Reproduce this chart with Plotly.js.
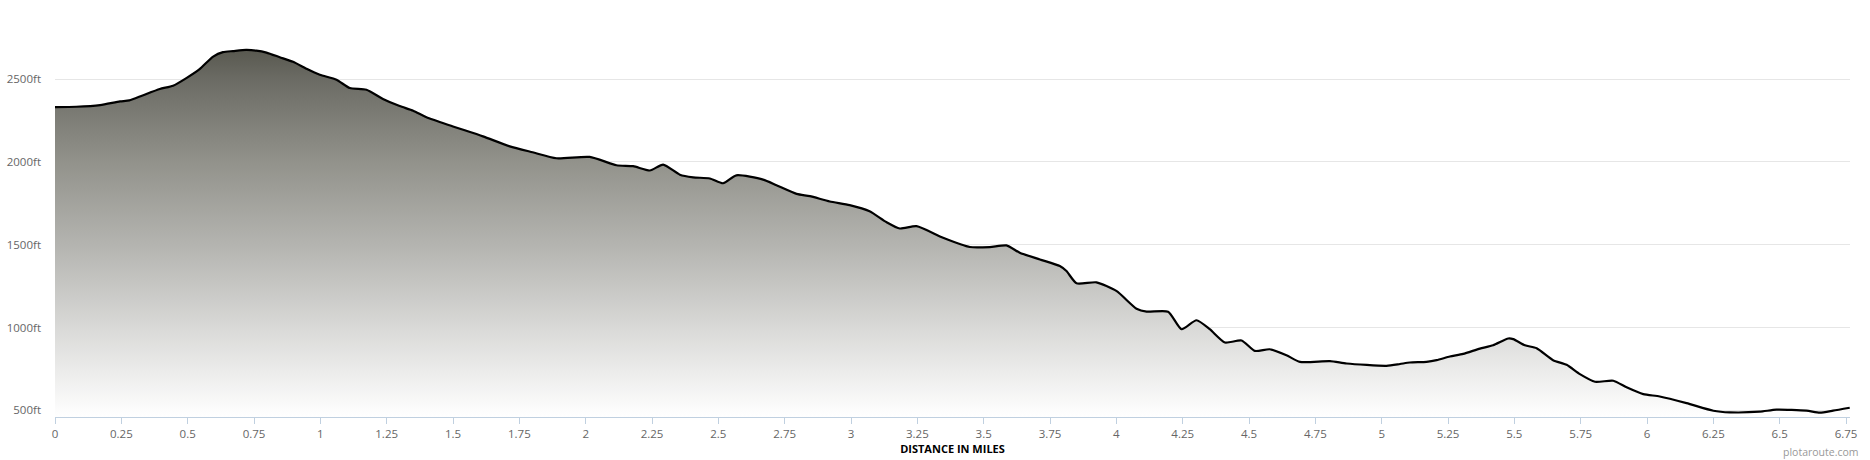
<!DOCTYPE html>
<html>
<head>
<meta charset="utf-8">
<script src="https://cdn.plot.ly/plotly-3.0.1.min.js"></script>
<style>
  html, body { margin: 0; padding: 0; background: #ffffff; }
  #chart { width: 1870px; height: 460px; }
</style>
</head>
<body>
<div id="chart"></div>
<script>
// Distance along route (miles)
const distanceMiles = [
  0, 0.08, 0.17, 0.245, 0.28, 0.33, 0.395, 0.445, 0.495, 0.545, 0.596, 0.633, 0.671, 0.72, 0.759,
  0.797, 0.847, 0.897, 0.948, 0.998, 1.061, 1.111, 1.174, 1.236, 1.299, 1.35, 1.40, 1.50, 1.613,
  1.714, 1.80, 1.89, 2.015, 2.116, 2.179, 2.242, 2.292, 2.355, 2.405, 2.468, 2.518, 2.568, 2.669,
  2.719, 2.795, 2.845, 2.92, 2.995, 3.07, 3.134, 3.184, 3.247, 3.347, 3.448, 3.523, 3.586, 3.636,
  3.712, 3.787, 3.812, 3.85, 3.925, 4.0, 4.076, 4.114, 4.195, 4.246, 4.302, 4.352, 4.409, 4.472,
  4.522, 4.578, 4.641, 4.692, 4.805, 4.868, 5.018, 5.069, 5.106, 5.169, 5.207, 5.257, 5.307, 5.37,
  5.42, 5.477, 5.496, 5.54, 5.584, 5.646, 5.697, 5.747, 5.804, 5.873, 5.923, 5.986, 6.048, 6.149,
  6.25, 6.312, 6.425, 6.488, 6.601, 6.651, 6.701, 6.764
];
// Elevation (feet)
const elevationFt = [
  2331, 2333, 2343, 2365, 2371, 2401, 2440, 2460, 2506, 2560, 2636, 2663, 2669, 2676, 2672,
  2660, 2632, 2604, 2562, 2526, 2496, 2446, 2436, 2380, 2337, 2309, 2269, 2214, 2154,
  2094, 2058, 2022, 2030, 1980, 1974, 1948, 1984, 1923, 1907, 1900, 1871, 1919, 1893,
  1859, 1807, 1793, 1761, 1739, 1702, 1636, 1598, 1612, 1542, 1486, 1486, 1496, 1452,
  1411, 1371, 1341, 1267, 1273, 1221, 1114, 1096, 1096, 990, 1044, 990, 910, 922,
  859, 869, 833, 793, 797, 783, 769, 780, 789, 793, 803, 825, 841, 873,
  893, 934, 930, 893, 875, 803, 775, 719, 673, 679, 639, 598, 584, 544,
  498, 488, 492, 504, 498, 486, 498, 516
];
// Tick labels
const xTickVals = [0, 0.25, 0.5, 0.75, 1, 1.25, 1.5, 1.75, 2, 2.25, 2.5, 2.75, 3, 3.25, 3.5, 3.75,
  4, 4.25, 4.5, 4.75, 5, 5.25, 5.5, 5.75, 6, 6.25, 6.5, 6.75];
const xTickText = ["0", "0.25", "0.5", "0.75", "1", "1.25", "1.5", "1.75", "2", "2.25", "2.5", "2.75",
  "3", "3.25", "3.5", "3.75", "4", "4.25", "4.5", "4.75", "5", "5.25", "5.5", "5.75", "6", "6.25", "6.5", "6.75"];
const yTickVals = [500, 1000, 1500, 2000, 2500];
const yTickText = ["500ft", "1000ft", "1500ft", "2000ft", "2500ft"];

const trace = {
  x: distanceMiles,
  y: elevationFt,
  type: 'scatter',
  mode: 'lines',
  line: { color: '#000000', width: 2.2, shape: 'spline', smoothing: 0.6 },
  fill: 'tozeroy',
  fillgradient: {
    type: 'vertical',
    start: 460,
    stop: 2680,
    colorscale: [
      [0, '#ffffff'],
      [0.243, '#d9d9d7'],
      [0.468, '#b4b4b0'],
      [0.694, '#92928b'],
      [0.919, '#6b6b64'],
      [1, '#58584f']
    ]
  },
  hoverinfo: 'x+y'
};

const layout = {
  width: 1870,
  height: 460,
  margin: { l: 55, r: 20, t: 10, b: 43 },
  paper_bgcolor: '#ffffff',
  plot_bgcolor: '#ffffff',
  showlegend: false,
  font: { family: 'Open Sans, sans-serif', size: 11, color: '#666666' },
  xaxis: {
    range: [0, 6.765],
    tickvals: xTickVals,
    ticktext: xTickText,
    showgrid: false,
    zeroline: false,
    showline: true,
    linecolor: '#C0D0E0',
    linewidth: 1,
    ticks: 'outside',
    ticklen: 6,
    tickcolor: '#C0D0E0',
    tickwidth: 1,
    tickfont: { family: 'Open Sans, sans-serif', size: 11.5, color: '#666666' },
    title: {
      text: 'DISTANCE IN MILES',
      font: { family: 'Open Sans, sans-serif', size: 11, color: '#000000', weight: 'bold' },
      standoff: 1
    },
    automargin: false
  },
  yaxis: {
    range: [460, 2917],
    tickvals: yTickVals,
    ticktext: yTickText,
    showgrid: true,
    gridcolor: '#e6e6e6',
    gridwidth: 1,
    zeroline: false,
    showline: false,
    ticks: '',
    ticklabelstandoff: 13,
    tickfont: { family: 'Open Sans, sans-serif', size: 11.5, color: '#666666' },
    automargin: false
  },
  annotations: [{
    text: 'plotaroute.com',
    xref: 'paper', yref: 'paper',
    x: 1, y: 0,
    xanchor: 'right', yanchor: 'middle',
    xshift: 10, yshift: -35,
    showarrow: false,
    font: { family: 'Open Sans, sans-serif', size: 10.5, color: '#999999' }
  }]
};

Plotly.newPlot('chart', [trace], layout, { displayModeBar: false, staticPlot: true });
</script>
</body>
</html>
